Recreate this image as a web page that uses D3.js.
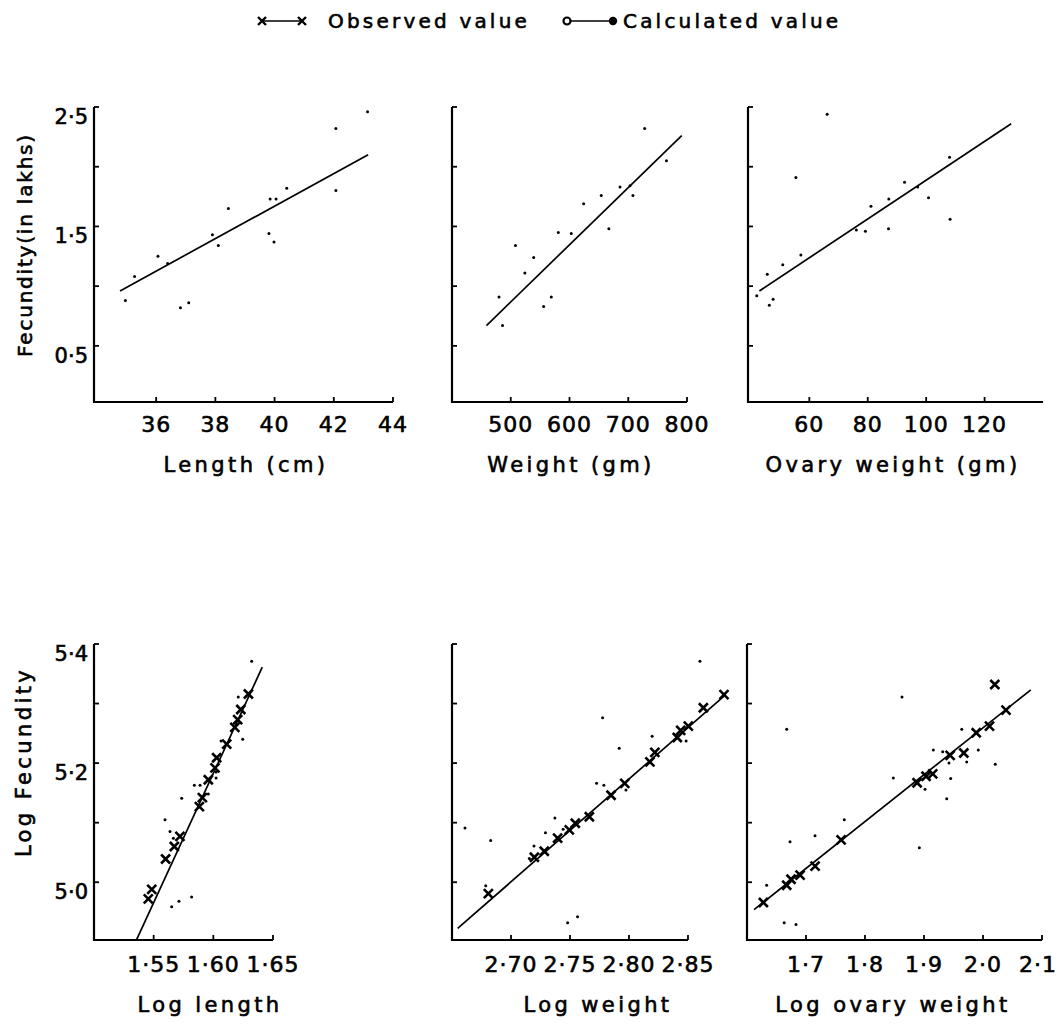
<!DOCTYPE html>
<html>
<head>
<meta charset="utf-8">
<script src="https://cdn.jsdelivr.net/npm/d3@7"></script>
<style>
  body { margin: 0; background: #fff; }
  svg text { font-family: "DejaVu Sans", sans-serif; fill: #000; stroke: #000; stroke-width: 0.6px; }
</style>
</head>
<body>
<div id="viz"></div>
<script>
// ---- data ----
// top row: fecundity (lakhs) against length, weight, ovary weight
const lengthX = [34.96, 35.27, 36.06, 36.39, 36.82, 37.10, 37.90, 38.10, 38.44, 39.81, 39.98, 39.85, 40.05, 40.41, 42.07, 42.07, 43.14];
const lengthY = [0.88, 1.08, 1.25, 1.19, 0.82, 0.86, 1.43, 1.34, 1.65, 1.44, 1.37, 1.73, 1.73, 1.82, 2.32, 1.80, 2.46];
const lengthFitX = [34.78, 43.16];
const lengthFitY = [0.96, 2.10];

const weightX = [480, 486, 508, 524, 539, 556, 569, 581, 603, 624, 654, 667, 686, 703, 708, 728, 765];
const weightY = [0.91, 0.67, 1.34, 1.11, 1.24, 0.83, 0.91, 1.45, 1.44, 1.69, 1.76, 1.48, 1.83, 1.84, 1.76, 2.32, 2.05];
const weightFitX = [458.6, 791];
const weightFitY = [0.67, 2.26];

const ovaryX = [42.0, 45.6, 46.3, 47.6, 50.9, 55.4, 57.1, 66.1, 76.1, 79.2, 81.1, 87.2, 87.1, 92.6, 97.1, 100.8, 108.0, 108.2];
const ovaryY = [0.92, 1.10, 0.84, 0.89, 1.18, 1.91, 1.26, 2.44, 1.47, 1.46, 1.67, 1.73, 1.48, 1.87, 1.83, 1.74, 2.08, 1.56];
const ovaryFitX = [42.9, 129.1];
const ovaryFitY = [0.96, 2.36];

// bottom row: log fecundity against log length, log weight, log ovary weight
const logLenCrossX = [1.5484, 1.5455, 1.5600, 1.5673, 1.5720, 1.5883, 1.5908, 1.5958, 1.6014, 1.6028, 1.6112, 1.6180, 1.6204, 1.6230, 1.6294];
const logLenCrossY = [4.988, 4.972, 5.039, 5.060, 5.077, 5.127, 5.142, 5.172, 5.192, 5.209, 5.232, 5.260, 5.273, 5.290, 5.316];
const logLenDotX = [1.5595, 1.5637, 1.5665, 1.5735, 1.5841, 1.5889, 1.5958, 1.6023, 1.6023, 1.6065, 1.6209, 1.6246, 1.6321, 1.5651, 1.5712, 1.5818];
const logLenDotY = [5.105, 5.085, 5.074, 5.141, 5.163, 5.163, 5.148, 5.175, 5.185, 5.237, 5.311, 5.240, 5.371, 4.959, 4.968, 4.975];
const logLenFitX = [1.5358, 1.641];
const logLenFitY = [4.904, 5.361];

const logWtCrossX = [2.6808, 2.7198, 2.7282, 2.7395, 2.7494, 2.7545, 2.7664, 2.7848, 2.7964, 2.8177, 2.8219, 2.8409, 2.8438, 2.8503, 2.8630, 2.8805];
const logWtCrossY = [4.981, 5.042, 5.052, 5.074, 5.088, 5.099, 5.110, 5.146, 5.166, 5.202, 5.218, 5.243, 5.255, 5.262, 5.293, 5.315];
const logWtDotX = [2.661, 2.6828, 2.6786, 2.7155, 2.7195, 2.7292, 2.7372, 2.7442, 2.748, 2.7564, 2.7725, 2.7787, 2.7776, 2.7917, 2.7974, 2.8196, 2.8484, 2.8601];
const logWtDotY = [5.091, 5.070, 4.994, 5.040, 5.061, 5.083, 5.108, 5.089, 4.932, 4.942, 5.166, 5.163, 5.276, 5.225, 5.155, 5.245, 5.237, 5.371];
const logWtFitX = [2.6548, 2.882];
const logWtFitY = [4.9225, 5.315];

const logOvCrossX = [1.6278, 1.6673, 1.6746, 1.6900, 1.7154, 1.7595, 1.8883, 1.9035, 1.9148, 1.9443, 1.9675, 1.9885, 2.0110, 2.0200, 2.0390];
const logOvCrossY = [4.966, 4.995, 5.005, 5.012, 5.027, 5.071, 5.167, 5.178, 5.182, 5.213, 5.217, 5.251, 5.262, 5.332, 5.289];
const logOvDotX = [1.6333, 1.663, 1.683, 1.6729, 1.7153, 1.7649, 1.6673, 1.8627, 1.8480, 1.8921, 1.9017, 1.9158, 1.9317, 1.9385, 1.9424, 1.9452, 1.964, 1.9724, 1.992, 2.0208];
const logOvDotY = [4.995, 4.932, 4.929, 5.068, 5.078, 5.105, 5.257, 5.311, 5.175, 5.058, 5.156, 5.222, 5.219, 5.140, 5.200, 5.174, 5.257, 5.202, 5.222, 5.198];
const logOvFitX = [1.612, 2.081];
const logOvFitY = [4.954, 5.323];

// tick values
const topYTicks = [0.5, 1.0, 1.5, 2.0, 2.5];
const topYLabels = [0.5, 1.5, 2.5];
const botYTicks = [5.0, 5.1, 5.2, 5.3, 5.4];
const botYLabels = [5.0, 5.2, 5.4];
const lengthTicks = [36, 38, 40, 42, 44];
const weightTicks = [500, 600, 700, 800];
const ovaryTicks = [60, 80, 100, 120];
const logLenTicks = [1.55, 1.60, 1.65];
const logWtTicks = [2.70, 2.75, 2.80, 2.85];
const logOvTicks = [1.7, 1.8, 1.9, 2.0, 2.1];

const zip = (xs, ys) => xs.map((x, i) => ({ x, y: ys[i] }));
const dotFmt = f => v => d3.format(f)(v).replace('.', '\u00b7');

// ---- layout ----
const width = 1058, height = 1027;
const topRow = { yDomain: [0.03, 2.5], yRange: [402, 107], yTicks: topYTicks, yLabels: topYLabels, yFmt: dotFmt('.1f'), tickLabelY: 432, titleY: 472 };
const botRow = { yDomain: [4.903, 5.4], yRange: [940, 644], yTicks: botYTicks, yLabels: botYLabels, yFmt: dotFmt('.1f'), tickLabelY: 972, titleY: 1012 };

const panels = [
  { row: topRow, xDomain: [33.9, 44], xRange: [94, 393], xTicks: lengthTicks, xFmt: d3.format('d'), title: 'Length (cm)', titleX: 246, showY: true,
    dots: zip(lengthX, lengthY), fit: zip(lengthFitX, lengthFitY), crosses: [] },
  { row: topRow, xDomain: [400, 800], xRange: [452, 687], xTicks: weightTicks, xFmt: d3.format('d'), title: 'Weight (gm)', titleX: 571,
    dots: zip(weightX, weightY), fit: zip(weightFitX, weightFitY), crosses: [] },
  { row: topRow, xDomain: [39, 140], xRange: [748, 1043], xTicks: ovaryTicks, xFmt: d3.format('d'), title: 'Ovary  weight  (gm)', titleX: 893,
    dots: zip(ovaryX, ovaryY), fit: zip(ovaryFitX, ovaryFitY), crosses: [] },
  { row: botRow, xDomain: [1.50, 1.65], xRange: [94, 273], xTicks: logLenTicks, xFmt: dotFmt('.2f'), title: 'Log  length', titleX: 210, showY: true,
    dots: zip(logLenDotX, logLenDotY), fit: zip(logLenFitX, logLenFitY), crosses: zip(logLenCrossX, logLenCrossY) },
  { row: botRow, xDomain: [2.65, 2.85], xRange: [452, 688], xTicks: logWtTicks, xFmt: dotFmt('.2f'), title: 'Log  weight', titleX: 598,
    dots: zip(logWtDotX, logWtDotY), fit: zip(logWtFitX, logWtFitY), crosses: zip(logWtCrossX, logWtCrossY) },
  { row: botRow, xDomain: [1.6, 2.1], xRange: [747, 1042], xTicks: logOvTicks, xFmt: dotFmt('.1f'), title: 'Log  ovary  weight', titleX: 893,
    dots: zip(logOvDotX, logOvDotY), fit: zip(logOvFitX, logOvFitY), crosses: zip(logOvCrossX, logOvCrossY) },
];

const svg = d3.select('#viz').append('svg')
  .attr('width', width)
  .attr('height', height);
svg.append('rect').attr('width', width).attr('height', height).attr('fill', '#fff');

function drawPanel(p) {
  const x = d3.scaleLinear().domain(p.xDomain).range(p.xRange);
  const y = d3.scaleLinear().domain(p.row.yDomain).range(p.row.yRange);
  const g = svg.append('g');
  const x0 = p.xRange[0], x1 = p.xRange[1];
  const yb = p.row.yRange[0], yt = p.row.yRange[1];

  // axes (ticks pointing inward)
  g.append('path')
    .attr('d', `M${x0},${yt}V${yb}H${x1}`)
    .attr('fill', 'none').attr('stroke', '#000').attr('stroke-width', 2.2);
  g.selectAll('.ytick').data(p.row.yTicks).join('line')
    .attr('x1', x0).attr('x2', x0 + 5)
    .attr('y1', d => y(d)).attr('y2', d => y(d))
    .attr('stroke', '#000').attr('stroke-width', 1.8);
  g.selectAll('.xtick').data(p.xTicks).join('line')
    .attr('x1', d => x(d)).attr('x2', d => x(d))
    .attr('y1', yb).attr('y2', yb - 5)
    .attr('stroke', '#000').attr('stroke-width', 1.8);

  // tick labels; keep the last one inside the picture
  g.selectAll('.xlab').data(p.xTicks).join('text')
    .attr('x', d => Math.min(x(d), width - 20)).attr('y', p.row.tickLabelY)
    .attr('text-anchor', 'middle')
    .attr('font-size', 22).attr('letter-spacing', 1)
    .text(p.xFmt);

  if (p.showY) {
    g.selectAll('.ylab').data(p.row.yLabels).join('text')
      .attr('x', x0 - 6).attr('y', d => y(d) + 17)
      .attr('text-anchor', 'end')
      .attr('font-size', 21)
      .text(p.row.yFmt);
  }

  g.append('text')
    .attr('x', p.titleX).attr('y', p.row.titleY)
    .attr('text-anchor', 'middle')
    .attr('font-size', 21).attr('letter-spacing', 3.4)
    .text(p.title);

  // calculated line
  g.append('path')
    .attr('d', d3.line().x(d => x(d.x)).y(d => y(d.y))(p.fit))
    .attr('fill', 'none').attr('stroke', '#000').attr('stroke-width', 1.7);

  // scattered points
  g.selectAll('.dot').data(p.dots).join('circle')
    .attr('cx', d => x(d.x)).attr('cy', d => y(d.y))
    .attr('r', 1.5).attr('fill', '#000');

  // observed crosses
  g.selectAll('.cross').data(p.crosses).join('path')
    .attr('transform', d => `translate(${x(d.x)},${y(d.y)})`)
    .attr('d', 'M-4.5,-4.5L4.5,4.5M-4.5,4.5L4.5,-4.5')
    .attr('stroke', '#000').attr('stroke-width', 2.6);
}

panels.forEach(drawPanel);

// y axis titles
svg.append('text')
  .attr('transform', 'translate(32,245) rotate(-90)')
  .attr('text-anchor', 'middle')
  .attr('font-size', 20).attr('letter-spacing', 1.8)
  .text('Fecundity(in lakhs)');
svg.append('text')
  .attr('transform', 'translate(31,762) rotate(-90)')
  .attr('text-anchor', 'middle')
  .attr('font-size', 21).attr('letter-spacing', 3.4)
  .text('Log  Fecundity');

// legend
const legend = svg.append('g');
legend.append('line').attr('x1', 262).attr('x2', 302).attr('y1', 21).attr('y2', 21).attr('stroke', '#000').attr('stroke-width', 1.6);
legend.selectAll('.lx').data([262, 302]).join('path')
  .attr('transform', d => `translate(${d},21)`)
  .attr('d', 'M-4,-4L4,4M-4,4L4,-4')
  .attr('stroke', '#000').attr('stroke-width', 2.4);
legend.append('text').attr('x', 328).attr('y', 28).attr('font-size', 20).attr('letter-spacing', 3.2).text('Observed  value');
legend.append('line').attr('x1', 567).attr('x2', 613).attr('y1', 21).attr('y2', 21).attr('stroke', '#000').attr('stroke-width', 1.6);
legend.append('circle').attr('cx', 567).attr('cy', 21).attr('r', 3.5).attr('fill', '#fff').attr('stroke', '#000').attr('stroke-width', 2.2);
legend.append('circle').attr('cx', 613).attr('cy', 21).attr('r', 4.2).attr('fill', '#000');
legend.append('text').attr('x', 623).attr('y', 28).attr('font-size', 20).attr('letter-spacing', 3.2).text('Calculated  value');
</script>
</body>
</html>
